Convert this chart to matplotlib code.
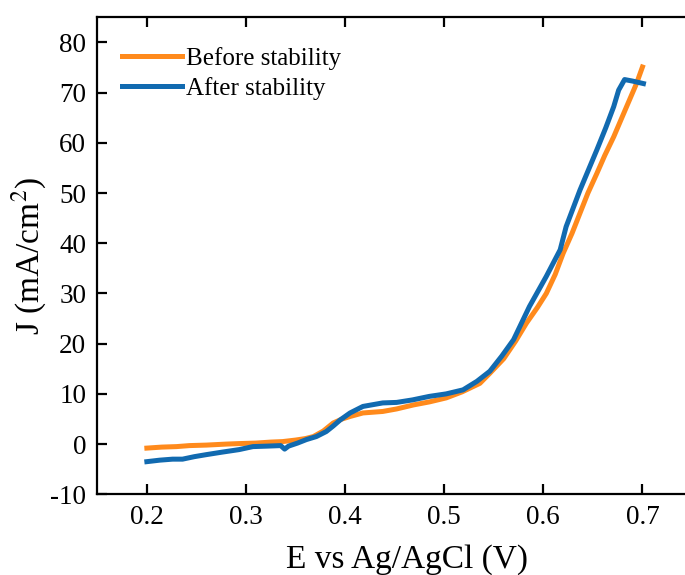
import numpy as np
import matplotlib
matplotlib.use('Agg')
import matplotlib.pyplot as plt

plt.rcParams['font.family'] = ['Liberation Serif', 'DejaVu Serif']
plt.rcParams['mathtext.fontset'] = 'stix'
plt.rcParams['axes.unicode_minus'] = False

# Before stability (orange)
E_before = [0.200, 0.215, 0.230, 0.243, 0.260, 0.280, 0.293, 0.310, 0.325, 0.337,
            0.350, 0.360, 0.368, 0.378, 0.388, 0.397, 0.405, 0.418, 0.438, 0.452,
            0.469, 0.485, 0.502, 0.518, 0.536, 0.546, 0.560, 0.572, 0.583, 0.594,
            0.603, 0.612, 0.620, 0.629, 0.637, 0.645, 0.654, 0.662, 0.671, 0.684,
            0.694, 0.700]
J_before = [-0.8, -0.6, -0.5, -0.3, -0.2, 0.0, 0.1, 0.2, 0.4, 0.5,
            0.8, 1.1, 1.5, 2.6, 4.2, 5.0, 5.5, 6.2, 6.5, 7.0,
            7.8, 8.4, 9.2, 10.4, 12.1, 14.1, 17.0, 20.5, 24.1, 27.2,
            30.0, 33.8, 38.0, 42.0, 46.0, 50.0, 53.9, 57.5, 61.2, 67.2,
            71.8, 75.1]

# After stability (blue)
E_after = [0.200, 0.213, 0.226, 0.236, 0.248, 0.260, 0.276, 0.293, 0.307, 0.322,
           0.335, 0.339, 0.343, 0.352, 0.361, 0.371, 0.381, 0.388, 0.395, 0.405,
           0.418, 0.438, 0.452, 0.468, 0.485, 0.502, 0.519, 0.533, 0.546, 0.558,
           0.570, 0.586, 0.603, 0.617, 0.623, 0.637, 0.654, 0.663, 0.671, 0.676,
           0.682, 0.690, 0.701]
J_after = [-3.5, -3.2, -3.0, -3.0, -2.5, -2.1, -1.6, -1.1, -0.5, -0.4,
           -0.3, -1.0, -0.4, 0.2, 0.9, 1.5, 2.5, 3.6, 4.8, 6.2,
           7.5, 8.2, 8.3, 8.8, 9.5, 10.0, 10.8, 12.5, 14.5, 17.5,
           20.8, 27.4, 33.4, 38.7, 43.3, 50.6, 58.6, 63.0, 67.2, 70.5,
           72.6, 72.3, 71.8]

x_ticks = [0.2, 0.3, 0.4, 0.5, 0.6, 0.7]
y_ticks = [-10, 0, 10, 20, 30, 40, 50, 60, 70, 80]

fig = plt.figure(figsize=(6.85, 5.75), dpi=100)
ax = fig.add_axes([97.3 / 685, 80.7 / 575, (692 - 97.3) / 685, (494.3 - 17.3) / 575])

ax.plot(E_before, J_before, color='#FF8A1C', lw=3.6, label='Before stability')
ax.plot(E_after, J_after, color='#116AB0', lw=3.6, label='After stability')

ax.set_xlim(0.15, 0.75)
ax.set_ylim(-10, 85)
ax.set_xticks(x_ticks)
ax.set_yticks(y_ticks)
ax.set_xticklabels([f'{v:.1f}' for v in x_ticks])

ax.spines['right'].set_visible(False)
for s in ['left', 'bottom', 'top']:
    ax.spines[s].set_linewidth(1.6)
ax.tick_params(direction='in', length=7, width=1.6, labelsize=19.5, top=True, pad=8)

ax.set_xlabel('E vs Ag/AgCl (V)', fontsize=24)
ax.set_ylabel('J (mA/cm$^2$)', fontsize=24)
ax.xaxis.set_label_coords(0.5216, -0.105)
ax.yaxis.set_label_coords(-0.082, 0.5)

ax.legend(loc='upper left', frameon=False, fontsize=18, handlelength=2.4,
          handletextpad=0.15, labelspacing=0.28, borderaxespad=0.3,
          bbox_to_anchor=(0.012, 0.975))

fig.savefig('out.png', dpi=100)
